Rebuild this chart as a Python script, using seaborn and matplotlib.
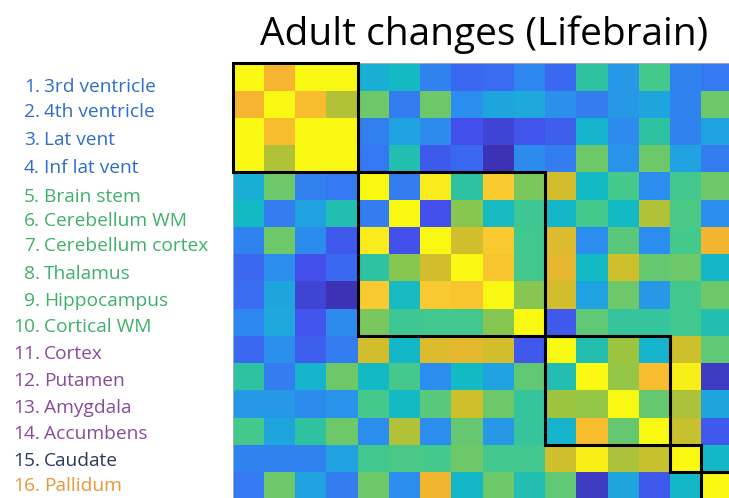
import numpy as np
import matplotlib
matplotlib.use('Agg')
import matplotlib.pyplot as plt
from matplotlib.colors import LinearSegmentedColormap
from matplotlib.patches import Rectangle
import seaborn as sns

title = 'Adult changes (Lifebrain)'
regions = ['3rd ventricle', '4th ventricle', 'Lat vent', 'Inf lat vent',
           'Brain stem', 'Cerebellum WM', 'Cerebellum cortex', 'Thalamus',
           'Hippocampus', 'Cortical WM', 'Cortex', 'Putamen', 'Amygdala',
           'Accumbens', 'Caudate', 'Pallidum']
# cluster sizes along the diagonal
clusters = [4, 6, 4, 1, 1]
cluster_colors = ['#2f6dc6', '#3fb06a', '#8a4a9e', '#2b3a58', '#e8963a']

corr = [
    [1.00, 0.85, 1.00, 1.00, 0.38, 0.43, 0.22, 0.15, 0.16, 0.24, 0.15, 0.50, 0.30, 0.57, 0.22, 0.19],
    [0.85, 1.00, 0.87, 0.73, 0.63, 0.20, 0.63, 0.26, 0.34, 0.35, 0.27, 0.20, 0.30, 0.34, 0.22, 0.63],
    [1.00, 0.87, 1.00, 1.00, 0.21, 0.33, 0.25, 0.10, 0.07, 0.11, 0.13, 0.40, 0.25, 0.50, 0.22, 0.33],
    [1.00, 0.73, 1.00, 1.00, 0.19, 0.47, 0.12, 0.15, 0.02, 0.25, 0.20, 0.63, 0.28, 0.63, 0.33, 0.20],
    [0.38, 0.63, 0.21, 0.19, 1.00, 0.20, 0.97, 0.50, 0.90, 0.65, 0.78, 0.43, 0.57, 0.26, 0.56, 0.63],
    [0.43, 0.20, 0.33, 0.47, 0.20, 1.00, 0.10, 0.67, 0.44, 0.55, 0.42, 0.57, 0.43, 0.73, 0.58, 0.26],
    [0.22, 0.63, 0.25, 0.12, 0.97, 0.10, 1.00, 0.78, 0.90, 0.56, 0.80, 0.26, 0.60, 0.26, 0.57, 0.84],
    [0.15, 0.26, 0.10, 0.15, 0.50, 0.67, 0.78, 1.00, 0.89, 0.56, 0.82, 0.43, 0.77, 0.62, 0.63, 0.42],
    [0.16, 0.34, 0.07, 0.02, 0.90, 0.44, 0.90, 0.89, 1.00, 0.67, 0.78, 0.33, 0.63, 0.30, 0.56, 0.63],
    [0.24, 0.35, 0.11, 0.25, 0.65, 0.55, 0.56, 0.56, 0.67, 1.00, 0.12, 0.61, 0.52, 0.52, 0.56, 0.47],
    [0.15, 0.27, 0.13, 0.20, 0.78, 0.42, 0.80, 0.82, 0.78, 0.12, 1.00, 0.47, 0.70, 0.40, 0.77, 0.61],
    [0.50, 0.20, 0.40, 0.63, 0.43, 0.57, 0.26, 0.43, 0.33, 0.61, 0.47, 1.00, 0.69, 0.87, 0.98, 0.04],
    [0.30, 0.30, 0.25, 0.28, 0.57, 0.43, 0.60, 0.77, 0.63, 0.52, 0.70, 0.69, 1.00, 0.62, 0.72, 0.34],
    [0.57, 0.34, 0.50, 0.63, 0.26, 0.73, 0.26, 0.62, 0.30, 0.52, 0.40, 0.87, 0.62, 1.00, 0.76, 0.12],
    [0.22, 0.22, 0.22, 0.33, 0.56, 0.58, 0.57, 0.63, 0.56, 0.56, 0.77, 0.98, 0.72, 0.76, 1.00, 0.42],
    [0.19, 0.63, 0.33, 0.20, 0.63, 0.26, 0.84, 0.42, 0.63, 0.47, 0.61, 0.04, 0.34, 0.12, 0.42, 1.00],
]

# parula-like map, tuned to the look of the figure
parula = LinearSegmentedColormap.from_list('parula_ish', [
    (0.00, '#3b2ba5'), (0.10, '#4350ec'), (0.18, '#3577f2'), (0.27, '#2a90ec'),
    (0.35, '#1ea8dc'), (0.43, '#12b9c4'), (0.50, '#2ec2a2'), (0.57, '#45c88c'),
    (0.63, '#6cc86a'), (0.70, '#9cc440'), (0.77, '#cdbf2c'), (0.85, '#f6b430'),
    (0.92, '#fad22e'), (1.00, '#f8f812')])

sns.set_style('white')
plt.rcParams['font.family'] = ['Open Sans', 'DejaVu Sans']

fig = plt.figure(figsize=(7.29, 4.98), dpi=100)
ax = fig.add_axes([232.7 / 729, 1 - 499.3 / 498, 500 / 729, 436 / 498])
n = len(regions)
sns.heatmap(np.array(corr), cmap=parula, vmin=0, vmax=1, cbar=False,
            xticklabels=False, yticklabels=False, ax=ax)

ax.set_yticks(np.arange(n) + 0.5)
ax.set_xticks(np.arange(1, n, 2) + 0.5)
ax.tick_params(axis='both', direction='in', length=3, width=0.6, color='#555555',
               top=True, bottom=True, left=True, right=False,
               labelbottom=False, labelleft=False)
for s in ax.spines.values():
    s.set_visible(True)
    s.set_color('#b0b0b0')
    s.set_linewidth(0.6)

start = 0
for size in clusters:
    ax.add_patch(Rectangle((start, start), size, size, fill=False,
                           edgecolor='black', lw=2.2, clip_on=False, zorder=5))
    start += size

fig.text(484 / 729, 1 - 35 / 498, title, ha='center', va='center',
         fontsize=28, color='black')

label_y = [87, 112, 140, 168, 197, 221, 246, 274, 301, 327, 354, 381, 408, 434, 461, 486]
label_colors = []
for size, c in zip(clusters, cluster_colors):
    label_colors += [c] * size
for i, (name, yy, c) in enumerate(zip(regions, label_y, label_colors)):
    fig.text(40 / 729, 1 - yy / 498, f'{i + 1}.', ha='right', va='center',
             fontsize=13.8, color=c)
    fig.text(44 / 729, 1 - yy / 498, name, ha='left', va='center',
             fontsize=13.8, color=c)

plt.savefig('out.png', dpi=100)
plt.close()
